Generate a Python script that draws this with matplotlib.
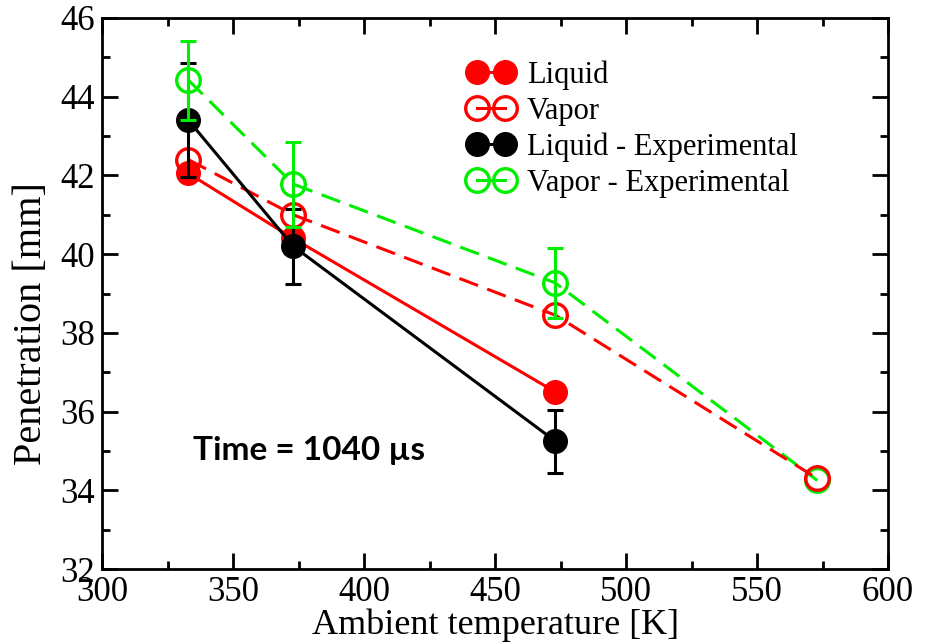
import matplotlib
matplotlib.use("Agg")
import matplotlib.pyplot as plt
from matplotlib.lines import Line2D
from matplotlib.ticker import MultipleLocator

# ambient temperatures [K]
temp_sim = [333, 373, 473]
temp_vap = [333, 373, 473, 573]

# simulated penetration [mm]
liquid = [42.05, 40.4, 36.5]
vapor = [42.4, 41.0, 38.45, 34.3]

# experimental penetration [mm] with error bars (no bar at 573 K)
liquid_exp = [43.4, 40.2, 35.25]
liquid_exp_err = [1.45, 0.95, 0.8]
vapor_exp = [44.42, 41.78, 39.27, 34.25]
vapor_exp_err = [1.0, 1.08, 0.88]

GREEN = "#00ee00"
plt.rcParams["font.family"] = "Liberation Serif"

fig = plt.figure(figsize=(9.25, 6.44), dpi=100)
ax = fig.add_axes([102 / 925, 1 - 569 / 644, 786 / 925, 551 / 644])

ms = 17
lw = 2.2
dash = (6.5, 3.2)

ax.plot(temp_vap, vapor_exp, color=GREEN, ls="--", dashes=dash, lw=lw, marker="o",
        ms=ms, mfc="none", mew=2.4, zorder=2)
ax.plot(temp_vap, vapor, color="red", ls="--", dashes=dash, lw=lw, marker="o",
        ms=ms, mfc="none", mew=2.4, zorder=3)
ax.plot(temp_sim, liquid, color="red", lw=lw, marker="o", ms=ms, zorder=3)
ax.plot(temp_sim, liquid_exp, color="black", lw=lw, marker="o", ms=ms, zorder=4)

ax.errorbar(temp_sim, liquid_exp, yerr=liquid_exp_err, fmt="none", ecolor="black",
            elinewidth=2.2, capsize=5.5, capthick=2.2, zorder=4)
ax.errorbar(temp_vap[:3], vapor_exp[:3], yerr=vapor_exp_err, fmt="none", ecolor=GREEN,
            elinewidth=2.2, capsize=5.5, capthick=2.2, zorder=5)

ax.set_xlim(300, 600)
ax.set_ylim(32, 46)
ax.xaxis.set_major_locator(MultipleLocator(50))
ax.xaxis.set_minor_locator(MultipleLocator(25))
ax.yaxis.set_major_locator(MultipleLocator(2))
ax.yaxis.set_minor_locator(MultipleLocator(1))
ax.tick_params(which="both", direction="in", top=True, right=True, width=2, labelsize=25)
ax.tick_params(which="major", length=11.5)
ax.tick_params(axis="x", which="major", pad=5)
ax.tick_params(axis="y", which="major", pad=5)
ax.tick_params(which="minor", length=6)
for s in ax.spines.values():
    s.set_linewidth(2)

ax.set_xlabel("Ambient temperature [K]", fontsize=26, labelpad=0)
ax.set_ylabel("Penetration [mm]", fontsize=29)
ax.yaxis.set_label_coords(-0.066, 0.445)

handles = [
    Line2D([], [], color="red", lw=lw, marker="o", ms=ms),
    Line2D([], [], color="red", lw=lw, marker="o", ms=ms, mfc="none", mew=2.4),
    Line2D([], [], color="black", lw=lw, marker="o", ms=ms),
    Line2D([], [], color=GREEN, lw=lw, marker="o", ms=ms, mfc="none", mew=2.4),
]
labels = ["Liquid", "Vapor", "Liquid - Experimental", "Vapor - Experimental"]
ax.legend(handles, labels, loc="upper left", bbox_to_anchor=(468 / 925, 1 - 60 / 644),
          bbox_transform=fig.transFigure, frameon=False, fontsize=22, numpoints=2,
          handlelength=1.5, handletextpad=0.42, labelspacing=0.23, borderpad=0,
          borderaxespad=0)

ax.text(0.116, 0.215, "Time = 1040 µs", transform=ax.transAxes, fontsize=24,
        fontweight="bold", family=["Lato", "DejaVu Sans"], va="center")

fig.savefig("out.png", dpi=100)
